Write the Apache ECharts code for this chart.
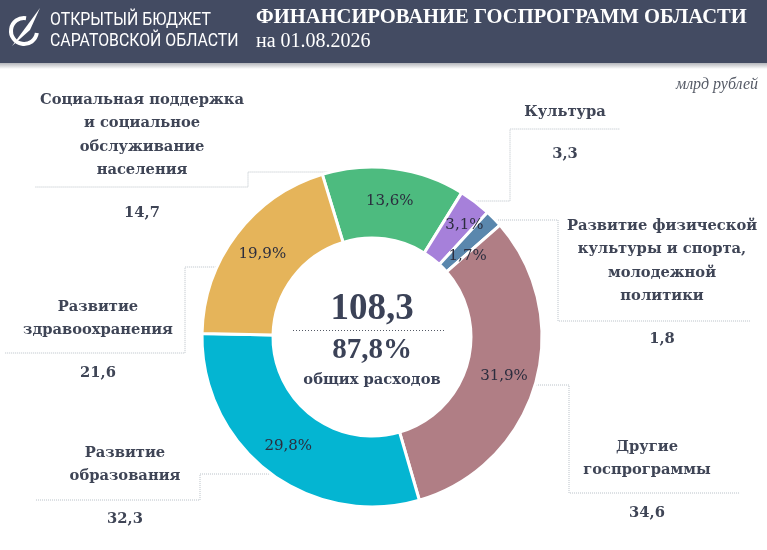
<!DOCTYPE html>
<html><head><meta charset="utf-8">
<script src="https://cdn.jsdelivr.net/npm/echarts@6/dist/echarts.min.js"></script>
<style>html,body{margin:0;padding:0;background:#fff}#c{width:767px;height:550px}</style>
</head><body><div id="c"></div><script>
// ---- data ----
const categories = [
  'Социальная поддержка\nи социальное\nобслуживание\nнаселения',
  'Культура',
  'Развитие физической\nкультуры и спорта,\nмолодежной\nполитики',
  'Другие\nгоспрограммы',
  'Развитие\nобразования',
  'Развитие\nздравоохранения'
];
const values = [14.7, 3.3, 1.8, 34.6, 32.3, 21.6];
const valueLabels = ['14,7', '3,3', '1,8', '34,6', '32,3', '21,6'];
const shareLabels = ['13,6%', '3,1%', '1,7%', '31,9%', '29,8%', '19,9%'];
const totalLabel = '108,3';
const totalShareLabel = '87,8%';
const totalShareCaption = 'общих расходов';
const unitLabel = 'млрд рублей';
const titleText = 'ФИНАНСИРОВАНИЕ ГОСПРОГРАММ ОБЛАСТИ';
const dateText = 'на 01.08.2026';
const brandLines = ['ОТКРЫТЫЙ БЮДЖЕТ', 'САРАТОВСКОЙ ОБЛАСТИ'];

// ---- style / layout ----
const colors = ['#4dbb7f', '#a680da', '#5a87ad', '#b07e85', '#04b5d2', '#e5b45a'];
const CX = 372, CY = 337, R0 = 99, R1 = 170;
const textColor = '#3f4556';
// label boxes: centre x, top y; leader: y of link to ring, x of elbow, y of underline, x of underline end
const outerLayout = [
  {x: 142, y: 88,  ly: 172, ex: 248, uy: 187, ux: 35},
  {x: 565, y: 100, ly: 201, ex: 510, uy: 129, ux: 620},
  {x: 662, y: 214, ly: 220, ex: 558, uy: 321, ux: 750},
  {x: 647, y: 435, ly: 385, ex: 569, uy: 493, ux: 740},
  {x: 125, y: 441, ly: 474, ex: 200, uy: 500, ux: 35},
  {x: 98,  y: 295, ly: 267, ex: 185, uy: 353, ux: 5}
];
const innerShift = [[0,0],[9,-3],[-3,15],[0,0],[0,0],[0,0]];

const data = values.map((v, i) => ({name: categories[i], value: v, itemStyle: {color: colors[i]}}));
const ghostData = values.map((v, i) => ({name: categories[i], value: v}));

const chart = echarts.init(document.getElementById('c'), null, {renderer: 'canvas'});
const labelFont = {fontFamily: 'DejaVu Serif', fontWeight: 'bold', fontSize: 14.7, color: textColor};

chart.setOption({
  animation: false,
  backgroundColor: '#ffffff',
  graphic: [
    {type: 'rect', shape: {x: 0, y: 0, width: 767, height: 63}, style: {fill: '#434b62'}, z: 1},
    {type: 'rect', shape: {x: 0, y: 63, width: 767, height: 6}, z: 1,
      style: {fill: {type: 'linear', x: 0, y: 0, x2: 0, y2: 1,
        colorStops: [{offset: 0, color: 'rgba(40,45,60,0.35)'}, {offset: 1, color: 'rgba(40,45,60,0)'}]}}},
    {type: 'arc', shape: {cx: 24, cy: 31, r: 13, startAngle: Math.PI * 0.05, endAngle: Math.PI * 1.55, clockwise: true},
      style: {stroke: '#ffffff', lineWidth: 4, fill: null}, z: 2},
    {type: 'polygon', shape: {points: [[12, 46], [40, 8], [30, 30]]}, style: {fill: '#ffffff'}, z: 2},
    {type: 'text', x: 50, y: 20, scaleX: 0.88, z: 2, style: {text: brandLines[0], fill: '#ffffff', font: '18px Roboto', textVerticalAlign: 'middle'}},
    {type: 'text', x: 50, y: 41, scaleX: 0.88, z: 2, style: {text: brandLines[1], fill: '#ffffff', font: '18px Roboto', textVerticalAlign: 'middle'}},
    {type: 'text', x: 256, y: 17, scaleX: 0.935, z: 2, style: {text: titleText, fill: '#ffffff', font: 'bold 22px "Liberation Serif"', textVerticalAlign: 'middle'}},
    {type: 'text', x: 256, y: 42, z: 2, style: {text: dateText, fill: '#ffffff', font: '20px "Liberation Serif"', textVerticalAlign: 'middle'}},
    {type: 'text', x: 758, y: 85, z: 2, style: {text: unitLabel, fill: '#555a66', font: 'italic 16px "Liberation Serif"', textAlign: 'right', textVerticalAlign: 'middle'}},
    {type: 'text', x: CX, y: 309, z: 5, style: {text: totalLabel, fill: '#3b4257', font: 'bold 37px "Liberation Serif"', textAlign: 'center', textVerticalAlign: 'middle'}},
    {type: 'line', shape: {x1: 293, y1: 330.5, x2: 444, y2: 330.5}, z: 5, style: {stroke: '#555a66', lineWidth: 1, lineDash: [1, 2]}},
    {type: 'text', x: CX, y: 351, z: 5, style: {text: totalShareLabel, fill: '#3b4257', font: 'bold 29px "Liberation Serif"', textAlign: 'center', textVerticalAlign: 'middle'}},
    {type: 'text', x: CX, y: 380, z: 5, style: {text: totalShareCaption, fill: '#3b4257', font: 'bold 14.7px "DejaVu Serif"', textAlign: 'center', textVerticalAlign: 'middle'}}
  ],
  series: [
    {
      type: 'pie', name: 'ghost', silent: true, z: 1,
      center: [CX, CY], radius: [R0, R1], startAngle: 107, clockwise: true,
      avoidLabelOverlap: false, minShowLabelAngle: 0,
      itemStyle: {color: 'rgba(0,0,0,0)'},
      emphasis: {disabled: true},
      label: {
        show: true, position: 'outside',
        formatter: p => p.name.split('\n').map(s => '{n|' + s + '}').join('\n') + '\n{v|' + valueLabels[p.dataIndex] + '}',
        rich: {
          n: Object.assign({lineHeight: 23.5}, labelFont),
          v: Object.assign({lineHeight: 62}, labelFont)
        }
      },
      labelLine: {show: true, lineStyle: {color: '#b9c0c7', width: 1, type: 'dotted'}},
      labelLayout: function (p) {
        const L = outerLayout[p.dataIndex];
        const dy = L.ly - CY;
        const side = L.ex < CX ? -1 : 1;
        const rx = CX + side * Math.sqrt(Math.max(0, (R1 - 1) * (R1 - 1) - dy * dy));
        return {
          x: L.x, y: L.y, align: 'center', verticalAlign: 'top',
          labelLinePoints: [[rx, L.ly], [L.ex, L.ly], [L.ex, L.uy], [L.ux, L.uy]]
        };
      },
      data: ghostData
    },
    {
      type: 'pie', name: 'shares', z: 3,
      center: [CX, CY], radius: [R0, R1], startAngle: 107, clockwise: true,
      avoidLabelOverlap: false, minShowLabelAngle: 0,
      itemStyle: {borderColor: '#ffffff', borderWidth: 3},
      emphasis: {disabled: true},
      label: {
        show: true, position: 'inside',
        formatter: p => shareLabels[p.dataIndex],
        fontFamily: 'DejaVu Serif', fontSize: 15, color: '#2b2d3e'
      },
      labelLine: {show: false},
      labelLayout: function (p) {
        const s = innerShift[p.dataIndex];
        return {dx: s[0], dy: s[1]};
      },
      data: data
    }
  ]
});
</script></body></html>
